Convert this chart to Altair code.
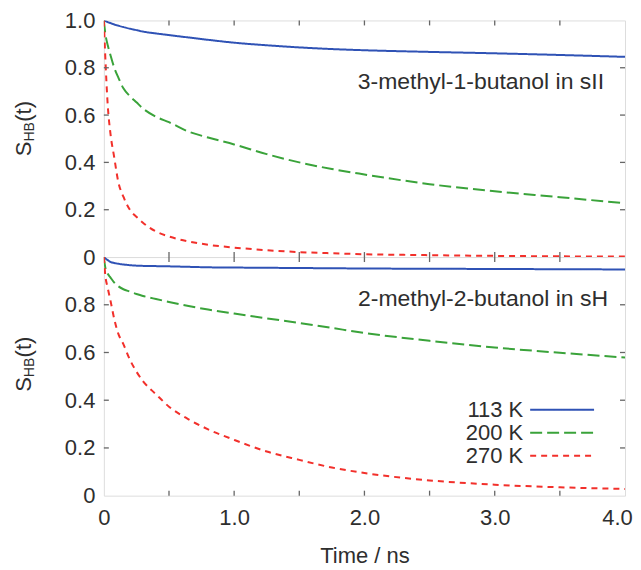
import altair as alt
import pandas as pd

# ---------------- data ----------------
times = [0, 0.01, 0.03, 0.05, 0.08, 0.11, 0.15, 0.2, 0.25, 0.3, 0.4, 0.5, 0.65,
         0.8, 1.0, 1.25, 1.5, 1.75, 2.0, 2.5, 3.0, 3.5, 4.0]

series = ["113 K", "200 K", "270 K"]

# top panel: 3-methyl-1-butanol in sII
top_113 = [1.0, 0.998, 0.993, 0.989, 0.983, 0.978, 0.972, 0.965, 0.959, 0.953, 0.945,
           0.938, 0.928, 0.918, 0.906, 0.895, 0.886, 0.879, 0.874, 0.867, 0.861, 0.854, 0.846]
top_200 = [1.0, 0.95, 0.895, 0.855, 0.80, 0.76, 0.713, 0.68, 0.654, 0.628, 0.593,
           0.570, 0.53, 0.505, 0.476, 0.435, 0.400, 0.372, 0.349, 0.308, 0.278, 0.253, 0.227]
top_270 = [1.0, 0.86, 0.64, 0.525, 0.42, 0.32, 0.255, 0.20, 0.17, 0.145, 0.108,
           0.087, 0.066, 0.052, 0.040, 0.029, 0.021, 0.016, 0.012, 0.008, 0.005, 0.003, 0.002]

# bottom panel: 2-methyl-2-butanol in sH
bot_113 = [1.0, 0.995, 0.987, 0.980, 0.975, 0.972, 0.969, 0.966, 0.964, 0.963, 0.962,
           0.961, 0.959, 0.957, 0.956, 0.955, 0.954, 0.953, 0.952, 0.951, 0.950, 0.949, 0.948]
bot_200 = [1.0, 0.96, 0.93, 0.915, 0.893, 0.878, 0.865, 0.855, 0.845, 0.837, 0.824,
           0.812, 0.795, 0.78, 0.763, 0.743, 0.724, 0.703, 0.682, 0.649, 0.621, 0.599, 0.579]
bot_270 = [1.0, 0.93, 0.87, 0.82, 0.74, 0.68, 0.635, 0.57, 0.52, 0.48, 0.425,
           0.373, 0.32, 0.278, 0.234, 0.185, 0.15, 0.118, 0.095, 0.064, 0.046, 0.035, 0.028]

x_label_ticks = [0, 1, 2, 3, 4]
x_minor_ticks = [0.5, 1.0, 1.5, 2.0, 2.5, 3.0, 3.5]
y_ticks_top = [0, 0.2, 0.4, 0.6, 0.8, 1.0]
y_ticks_bot = [0, 0.2, 0.4, 0.6, 0.8]
y_inner_ticks = [0.2, 0.4, 0.6, 0.8]

colors = ["#2f52b5", "#3aa33a", "#f2302b"]
dashes = [[1, 0], [12, 5], [6, 5]]

FONT = "Liberation Sans"
W = 522
TXT = "#2e2e2e"
FRAME = "#666666"


def long_df(a, b, c):
    rows = []
    for s, vals in zip(series, [a, b, c]):
        for t, v in zip(times, vals):
            rows.append({"t": t, "v": v, "s": s})
    return pd.DataFrame(rows)


xt = pd.DataFrame({"x": x_minor_ticks})
yt = pd.DataFrame({"y": y_inner_ticks})


def panel(df, H, yvals, show_x, note, note_x, note_y, title_y):
    xscale = alt.Scale(domain=[0, 4], nice=False)
    yscale = alt.Scale(domain=[0, 1], nice=False)
    if show_x:
        xaxis = alt.Axis(values=x_label_ticks, tickSize=0, domain=False, grid=False,
                         labelFlush=False,
                         labelOffset={"condition": {"test": "datum.value == 4", "value": -8},
                                      "value": 0},
                         labelExpr="datum.value == 0 ? '0' : format(datum.value, '.1f')",
                         labelPadding=12, labelFontSize=22, labelFont=FONT, labelColor=TXT,
                         title="Time / ns", titleFontSize=22, titleFont=FONT,
                         titleFontWeight="normal", titleColor=TXT, titlePadding=17)
    else:
        xaxis = None
    yaxis = alt.Axis(values=yvals, tickSize=0, domain=False, grid=False,
                     labelExpr="datum.value == 0 ? '0' : format(datum.value, '.1f')",
                     labelPadding=9, labelFontSize=22, labelFont=FONT, labelColor=TXT,
                     title=None)

    lines = alt.Chart(df).mark_line(strokeWidth=2, interpolate="monotone", clip=True).encode(
        x=alt.X("t:Q", scale=xscale, axis=xaxis),
        y=alt.Y("v:Q", scale=yscale, axis=yaxis),
        color=alt.Color("s:N", scale=alt.Scale(domain=series, range=colors), legend=None),
        strokeDash=alt.StrokeDash("s:N", scale=alt.Scale(domain=series, range=dashes), legend=None),
        order=alt.Order("t:Q"),
    )

    tk = dict(stroke=FRAME, strokeWidth=1.3)
    xtop = alt.Chart(xt).mark_rule(**tk).encode(x="x:Q", y=alt.value(0), y2=alt.value(5))
    xbot = alt.Chart(xt).mark_rule(**tk).encode(x="x:Q", y=alt.value(H - 5), y2=alt.value(H))
    yl = alt.Chart(yt).mark_rule(**tk).encode(y="y:Q", x=alt.value(0), x2=alt.value(5))
    yr = alt.Chart(yt).mark_rule(**tk).encode(y="y:Q", x=alt.value(W - 5), x2=alt.value(W))

    note_mark = alt.Chart().mark_text(text=note, align="right", baseline="middle",
                                      fontSize=23, font=FONT, color=TXT).encode(
        x=alt.value(note_x), y=alt.value(note_y))

    # y title S_HB(t) with subscript, rotated
    tx = -80
    t_s = alt.Chart().mark_text(text="S", angle=270, align="left", baseline="middle",
                                fontSize=22, font=FONT, color=TXT).encode(
        x=alt.value(tx), y=alt.value(title_y + 28))
    t_hb = alt.Chart().mark_text(text="HB", angle=270, align="left", baseline="middle",
                                 fontSize=14, font=FONT, color=TXT, dy=6).encode(
        x=alt.value(tx), y=alt.value(title_y + 28 - 14.7))
    t_t = alt.Chart().mark_text(text="(t)", angle=270, align="left", baseline="middle",
                                fontSize=22, font=FONT, color=TXT).encode(
        x=alt.value(tx), y=alt.value(title_y + 28 - 14.7 - 19.8))

    layers = [lines, xtop, xbot, yl, yr, note_mark, t_s, t_hb, t_t]
    return alt.layer(*layers).properties(width=W, height=H)


top = panel(long_df(top_113, top_200, top_270), 237, y_ticks_top, False,
            "3-methyl-1-butanol in sII", 501, 62, 108)

bottom = panel(long_df(bot_113, bot_200, bot_270), 239, y_ticks_bot, True,
               "2-methyl-2-butanol in sH", 505, 42, 107)

# legend drawn inside the bottom panel: label then line sample on the right
leg_layers = []
for i, (lab, col, dsh) in enumerate(zip(series, colors, dashes)):
    yy = 153 + i * 23
    leg_layers.append(alt.Chart().mark_text(text=lab, align="right", baseline="middle",
                                            fontSize=22, font=FONT, color=TXT).encode(
        x=alt.value(420), y=alt.value(yy)))
    leg_layers.append(alt.Chart().mark_rule(stroke=col, strokeWidth=2, strokeDash=dsh).encode(
        x=alt.value(427), x2=alt.value(491), y=alt.value(yy)))

bottom = alt.layer(bottom, *leg_layers)

chart = alt.vconcat(top, bottom, spacing=0, bounds="flush").properties(
    padding={"left": 4, "top": 0, "right": 0, "bottom": 0}
).configure_view(stroke=FRAME, strokeWidth=1.5).configure(background="white")

chart.save("out.html", embed_options={"renderer": "svg", "actions": False})
